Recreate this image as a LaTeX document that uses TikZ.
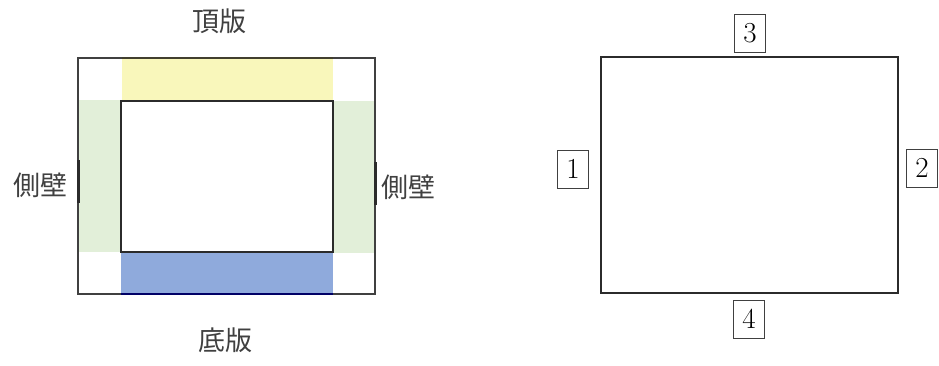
\documentclass[tikz,border=0pt]{standalone}
\usepackage{fontspec}
\newfontfamily\cjk{Noto Sans CJK JP}
\definecolor{topY}{HTML}{F9F7BB}
\definecolor{wallG}{HTML}{E2EFD9}
\definecolor{botB}{HTML}{8FAADC}
\definecolor{lineK}{HTML}{2B2B2B}
\tikzset{
  cjklabel/.style={font=\cjk\fontsize{27}{27}\selectfont, text=black!75, inner sep=0pt},
  numbox/.style={draw=black!75, line width=0.9pt, minimum width=31pt, minimum height=38pt, inner sep=0pt, font=\fontsize{29}{29}\selectfont},
  frame/.style={draw=lineK, line width=1.8pt},
}
\begin{document}
\begin{tikzpicture}[x=1pt,y=-1pt]
\useasboundingbox (0,0) rectangle (939,365);
% left diagram fills
\fill[topY] (122,58) rectangle (333,101);
\fill[botB] (121,252) rectangle (333,294);
\fill[wallG] (79,100) rectangle (121,252);
\fill[wallG] (333,101) rectangle (374,253);
% outer and inner frames
\draw[draw=black!75, line width=1.4pt] (78,58) rectangle (375,294);
\draw[frame] (121,101) rectangle (333,252);
\draw[draw=black!70!olive, line width=1.6pt] (122,58) -- (333,58);
\draw[draw=blue!40!black, line width=1.6pt] (121,294) -- (333,294);
% side tick marks
\draw[line width=3pt, lineK] (78,160) -- (78,203);
\draw[line width=3pt, lineK] (375,162) -- (375,205);
% labels
\node[cjklabel] (top) at (219,21) {頂版};
\node[cjklabel] (lw) at (40,185) {側壁};
\node[cjklabel] (rw) at (408,187) {側壁};
\node[cjklabel] (bot) at (225,340) {底版};
% right diagram
\draw[frame] (601,57) rectangle (898,293);
\node[numbox] (n3) at (750,33) {3};
\node[numbox] (n1) at (573,169) {1};
\node[numbox] (n2) at (922,168) {2};
\node[numbox] (n4) at (749,319) {4};
\end{tikzpicture}
\end{document}
